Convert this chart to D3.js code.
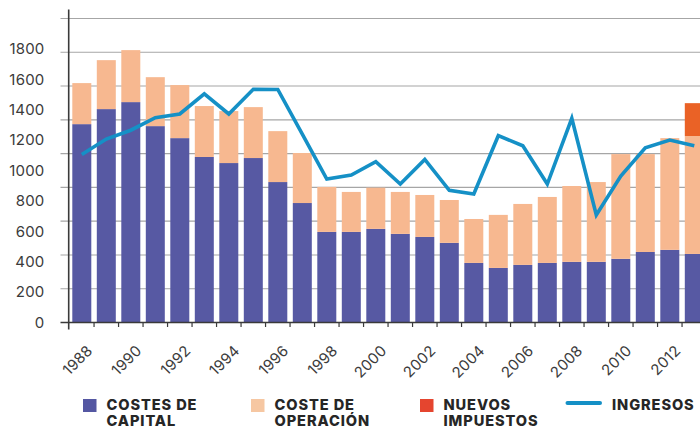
<!DOCTYPE html>
<html>
<head>
<meta charset="utf-8">
<script src="https://cdn.jsdelivr.net/npm/d3@7/dist/d3.min.js"></script>
<style>
  html, body { margin: 0; padding: 0; background: #ffffff; }
  svg { display: block; }
  text { font-family: Inter, "Noto Sans", sans-serif; }
</style>
</head>
<body>
<svg id="chart" width="700" height="430"></svg>
<script>
// Yearly series (millions)
const years = d3.range(1988, 2014);
const capital = [1305, 1404, 1450, 1292, 1213, 1089, 1049, 1082, 924, 786, 596, 596, 616,
                 583, 563, 524, 392, 359, 379, 392, 399, 399, 419, 464, 478, 451];
const operacion = [270, 322, 342, 322, 349, 335, 342, 335, 335, 329, 296, 263, 271,
                   276, 276, 282, 289, 349, 401, 434, 499, 525, 689, 644, 735, 776];
const impuestos = [0, 0, 0, 0, 0, 0, 0, 0, 0, 0, 0, 0, 0,
                   0, 0, 0, 0, 0, 0, 0, 0, 0, 0, 0, 0, 216];
const ingresos = [1105, 1207, 1265, 1347, 1372, 1505, 1372, 1534, 1533, 1240, 944, 970, 1058,
                  911, 1073, 870, 846, 1229, 1163, 911, 1343, 708, 964, 1150, 1200, 1163];

const yTickLabels = [0, 200, 400, 600, 800, 1000, 1200, 1400, 1600, 1800];
const xTickLabels = [1988, 1990, 1992, 1994, 1996, 1998, 2000, 2002, 2004, 2006, 2008, 2010, 2012];

const seriesKeys = ["capital", "operacion", "impuestos"];
const barColors = { capital: "#5759a3", operacion: "#f7b890", impuestos: "#ea6226" };
const legendItems = [
  { lines: ["COSTES DE", "CAPITAL"], color: "#5457a2", type: "box" },
  { lines: ["COSTE DE", "OPERACIÓN"], color: "#f6c7a2", type: "box" },
  { lines: ["NUEVOS", "IMPUESTOS"], color: "#e5452f", type: "box" },
  { lines: ["INGRESOS"], color: "#1590c6", type: "line" }
];

const table = years.map((yr, i) => ({
  year: yr, capital: capital[i], operacion: operacion[i], impuestos: impuestos[i]
}));

const svg = d3.select("#chart");
const axisX = 68.7, baseY = 322.5, topY = 18.5;

const x = d3.scaleBand()
  .domain(years)
  .range([axisX, 707.4])
  .paddingInner(0.2245)
  .paddingOuter(0.147);

const y = d3.scaleLinear().domain([0, 2000]).range([baseY, topY]);

// horizontal grid: nine equal bands up to the domain top
const gridSteps = 9;
const gridVals = d3.range(gridSteps + 1).map(i => y.domain()[1] * i / gridSteps);
svg.append("g")
  .selectAll("line")
  .data(gridVals.slice(1))
  .join("line")
  .attr("x1", 60.5).attr("x2", 700)
  .attr("y1", d => y(d)).attr("y2", d => y(d))
  .attr("stroke", "#a6a6a6")
  .attr("stroke-width", 1.1);

// stacked bars
const stack = d3.stack().keys(seriesKeys)(table);
svg.append("g")
  .selectAll("g")
  .data(stack)
  .join("g")
  .attr("fill", d => barColors[d.key])
  .selectAll("rect")
  .data(d => d.filter(p => p[1] > p[0]))
  .join("rect")
  .attr("x", d => x(d.data.year))
  .attr("width", x.bandwidth())
  .attr("y", d => y(d[1]))
  .attr("height", d => y(d[0]) - y(d[1]));

// x axis baseline with ticks between bars
const gap = x.step() - x.bandwidth();
svg.append("line")
  .attr("x1", 60.5).attr("x2", 700)
  .attr("y1", baseY).attr("y2", baseY)
  .attr("stroke", "#3a3a3a").attr("stroke-width", 1.6);
svg.append("g")
  .selectAll("line")
  .data(years)
  .join("line")
  .attr("x1", d => x(d) + x.bandwidth() + gap / 2)
  .attr("x2", d => x(d) + x.bandwidth() + gap / 2)
  .attr("y1", baseY).attr("y2", baseY + 4.5)
  .attr("stroke", "#3a3a3a").attr("stroke-width", 1.2);

// y axis line
svg.append("line")
  .attr("x1", axisX).attr("x2", axisX)
  .attr("y1", 9.5).attr("y2", 329.5)
  .attr("stroke", "#3a3a3a").attr("stroke-width", 1.6);

// y labels
const yAxis = d3.axisLeft(y).tickValues(yTickLabels).tickFormat(d3.format("d"))
  .tickSize(0).tickPadding(0);
const gy = svg.append("g").attr("transform", "translate(44.5,0)").call(yAxis);
gy.select(".domain").remove();
gy.selectAll("text")
  .attr("font-family", "Inter, 'Noto Sans', sans-serif")
  .attr("font-size", 15)
  .attr("fill", "#3b3b3b")
  .attr("letter-spacing", "0.2px");

// x labels, rotated
svg.append("g")
  .selectAll("text")
  .data(xTickLabels)
  .join("text")
  .attr("transform", d => `translate(${x(d) + x.bandwidth() / 2 + 8},${348}) rotate(-45)`)
  .attr("text-anchor", "end")
  .attr("dy", "0.35em")
  .attr("font-size", 15)
  .attr("fill", "#3b3b3b")
  .attr("letter-spacing", "0.2px")
  .text(d => d);

// income line
const line = d3.line()
  .x((d, i) => x(years[i]) + x.bandwidth() / 2)
  .y(d => y(d));
svg.append("path")
  .datum(ingresos)
  .attr("d", line)
  .attr("fill", "none")
  .attr("stroke", "#1590c6")
  .attr("stroke-width", 3.6)
  .attr("stroke-linejoin", "miter");

// legend
const legendX = [83, 251, 420, 566];
const lg = svg.append("g");
legendItems.forEach((item, i) => {
  const g = lg.append("g").attr("transform", `translate(${legendX[i]},0)`);
  let tx;
  if (item.type === "box") {
    g.append("rect").attr("x", 0).attr("y", 399).attr("width", 13.5).attr("height", 13)
      .attr("fill", item.color);
    tx = 23.5;
  } else {
    g.append("line").attr("x1", 1.5).attr("x2", 34).attr("y1", 403).attr("y2", 403)
      .attr("stroke", item.color).attr("stroke-width", 4).attr("stroke-linecap", "round");
    tx = 46;
  }
  const label = g.append("text")
    .attr("y", 410)
    .attr("font-size", 14.6)
    .attr("font-weight", 800)
    .attr("fill", "#262626")
    .attr("letter-spacing", "0.9px");
  item.lines.forEach((t, j) => {
    label.append("tspan")
      .attr("x", tx)
      .attr("dy", j === 0 ? 0 : 16.4)
      .text(t);
  });
});
</script>
</body>
</html>
